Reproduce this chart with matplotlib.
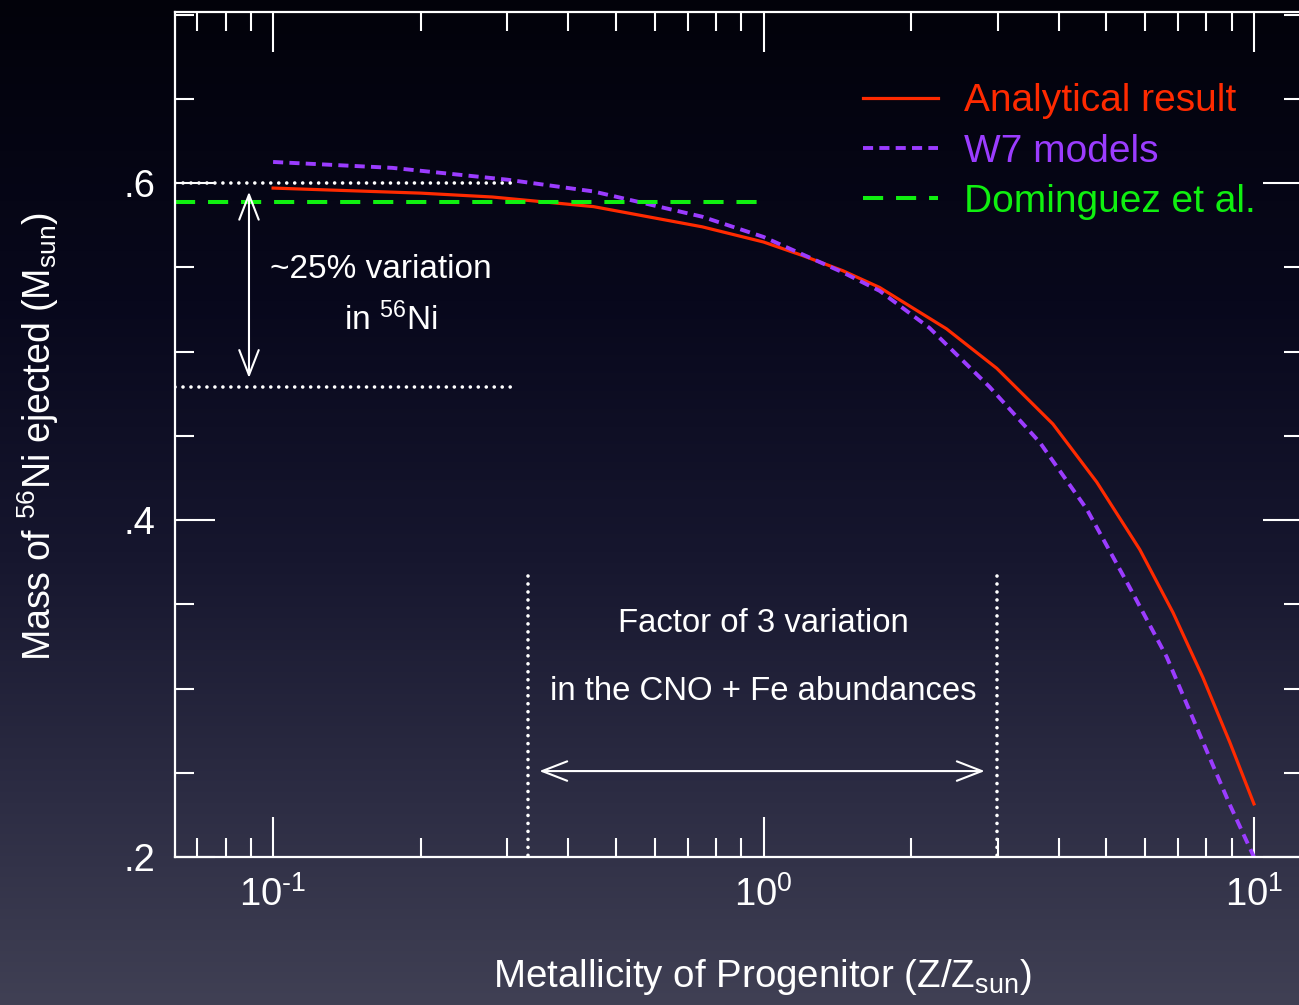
import numpy as np
import matplotlib
matplotlib.use("Agg")
import matplotlib.pyplot as plt
from matplotlib.ticker import LogLocator, FixedLocator, FuncFormatter, NullFormatter

plt.rcParams['font.family'] = ['Liberation Sans', 'DejaVu Sans']
plt.rcParams['mathtext.fontset'] = 'custom'
plt.rcParams['mathtext.rm'] = 'Liberation Sans'
plt.rcParams['mathtext.it'] = 'Liberation Sans:italic'
plt.rcParams['mathtext.default'] = 'regular'

# courbes
z_analytique = [0.1, 0.2, 0.28, 0.45, 0.75, 1.0, 1.2, 1.45, 1.725, 2.36, 2.99, 3.89, 4.78,
                5.85, 6.84, 7.87, 8.93, 10.0]
ni_analytique = [0.597, 0.594, 0.5917, 0.586, 0.574, 0.565, 0.557, 0.548, 0.538, 0.5135,
                 0.490, 0.457, 0.4225, 0.3825, 0.345, 0.3065, 0.268, 0.2315]

z_w7 = [0.1, 0.175, 0.3, 0.45, 0.75, 1.0, 1.45, 1.725, 2.18, 2.89, 3.66, 4.56, 5.58,
        6.64, 7.76, 8.93, 10.0]
ni_w7 = [0.6125, 0.609, 0.602, 0.595, 0.580, 0.568, 0.547, 0.536, 0.514, 0.479, 0.446,
         0.4065, 0.360, 0.3187, 0.2724, 0.231, 0.200]

z_dominguez = [0.0631, 1.0]
ni_dominguez = [0.589, 0.589]

# annotations
z_bornes = [0.331, 2.99]
ni_variation = [0.6, 0.479]

xmin, xmax = 10 ** -1.2, 10 ** 1.1
ymin, ymax = 0.2, 0.7015

W, H = 1299, 1005
fig = plt.figure(figsize=(W / 100, H / 100), dpi=100)

# fond en degrade
fond = fig.add_axes([0, 0, 1, 1], zorder=-1)
pos = np.array([0.0, 0.3, 0.55, 0.8, 1.0])
cols = np.array([[2, 2, 10], [8, 8, 28], [22, 22, 46], [45, 45, 68], [64, 64, 84]]) / 255.0
t = np.linspace(0, 1, 400)
grad = np.stack([np.interp(t, pos, cols[:, i]) for i in range(3)], axis=1)
fond.imshow(grad[:, None, :], aspect='auto', extent=[0, 1, 1, 0])
fond.axis('off')

ax = fig.add_axes([175 / W, (H - 857) / H, (1303 - 175) / W, (857 - 12) / H])
ax.set_facecolor('none')
ax.set_xscale('log')
ax.set_xlim(xmin, xmax)
ax.set_ylim(ymin, ymax)

ax.plot(z_analytique, ni_analytique, color='#ff2a00', lw=2.3, label='Analytical result')
ax.plot(z_w7, ni_w7, color='#9b3cff', lw=2.8, dashes=(2.6, 1.6), label='W7 models')
ax.plot(z_dominguez, ni_dominguez, color='#10f010', lw=2.9, dashes=(5, 3.2), label='Dominguez et al.')

blanc = 'white'
for v in ni_variation:
    ax.plot([xmin, 0.31], [v, v], color=blanc, lw=2.6, dashes=(0.01, 2.2),
            dash_capstyle='round')
for z in z_bornes:
    ax.plot([z, z], [0.367, ymin], color=blanc, lw=2.6, dashes=(0.01, 2.2),
            dash_capstyle='round')

fleche = dict(arrowstyle='<->,head_length=0.9,head_width=0.35', color=blanc, lw=1.5,
              shrinkA=0, shrinkB=0, mutation_scale=20)
ax.annotate('', xy=(0.0893, 0.5948), xytext=(0.0893, 0.4843), arrowprops=fleche)
ax.annotate('', xy=(0.349, 0.251), xytext=(2.825, 0.251), arrowprops=fleche)

ax.text(0.1655, 0.5485, '~25% variation', color=blanc, fontsize=24, ha='center', va='center')
ax.text(0.1735, 0.5185, 'in $^{56}$Ni', color=blanc, fontsize=24, ha='center', va='center')
ax.text(0.997, 0.3385, 'Factor of 3 variation', color=blanc, fontsize=23.7, ha='center', va='center')
ax.text(0.997, 0.2982, 'in the CNO + Fe abundances', color=blanc, fontsize=23.7, ha='center', va='center')

for s in ax.spines.values():
    s.set_color(blanc)
    s.set_linewidth(1.6)


def etiquette_x(v, p):
    e = int(round(np.log10(v)))
    txt = str(e).replace('-', '\u2010')
    return '$10^{%s}$' % txt


ax.xaxis.set_major_locator(LogLocator(base=10, numticks=10))
ax.xaxis.set_minor_locator(LogLocator(base=10, subs=np.arange(2, 10), numticks=20))
ax.xaxis.set_minor_formatter(NullFormatter())
ax.xaxis.set_major_formatter(FuncFormatter(etiquette_x))
ax.yaxis.set_major_locator(FixedLocator([0.2, 0.4, 0.6]))
ax.yaxis.set_minor_locator(FixedLocator([0.25, 0.3, 0.35, 0.45, 0.5, 0.55, 0.65, 0.7]))
ax.yaxis.set_major_formatter(FuncFormatter(lambda v, p: ('%.1f' % v).lstrip('0')))

ax.tick_params(which='both', direction='in', top=True, right=True, colors=blanc,
               width=1.5, labelsize=27.5)
ax.tick_params(which='major', length=29, pad=14)
ax.tick_params(which='minor', length=14)

ax.set_xlabel('Metallicity of Progenitor (Z/Z$_{\\rm sun}$)', color=blanc, fontsize=27.7)
ax.xaxis.set_label_coords((762 - 175) / 1128, -0.118)
fig.text(38 / W, 1 - 436 / H, 'Mass of $^{56}$Ni ejected (M$_{\\rm sun}$)', color=blanc,
         fontsize=27, rotation=90, ha='center', va='center')

leg = ax.legend(loc='upper left', bbox_to_anchor=(836 / W, 1 - 56 / H),
                bbox_transform=fig.transFigure, frameon=False, fontsize=28,
                handlelength=1.93, handletextpad=0.65, labelspacing=0.37,
                labelcolor='linecolor', borderpad=0.2)

fig.savefig('out.png', dpi=100)
